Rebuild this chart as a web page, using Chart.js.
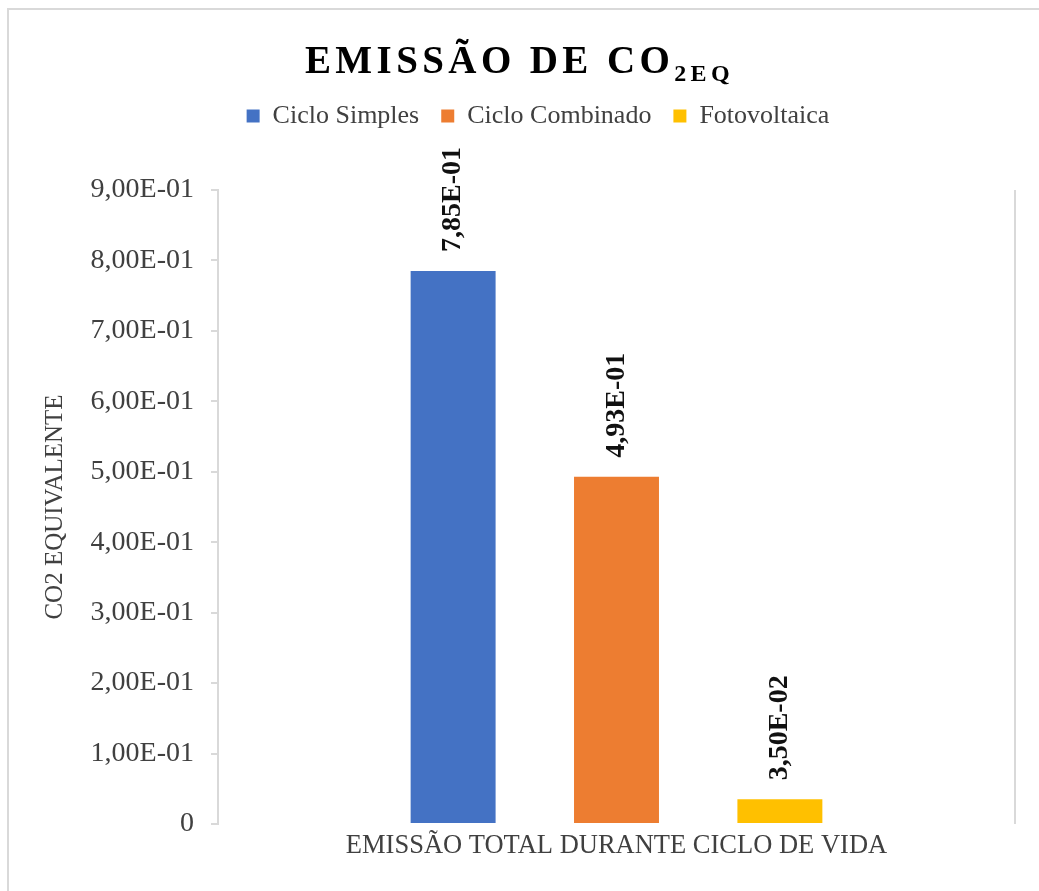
<!DOCTYPE html>
<html lang="pt">
<head>
<meta charset="UTF-8">
<script src="https://cdn.jsdelivr.net/npm/chart.js"></script>
<style>
  body { margin: 0; background: #fff; overflow: hidden; }
  .frame {
    position: absolute; left: 7px; top: 8px; width: 1100px; height: 950px;
    border-left: 2px solid #d9d9d9; border-top: 2px solid #d9d9d9;
  }
  canvas { position: absolute; left: 0; top: 0; }
</style>
</head>
<body>
<div class="frame"></div>
<canvas id="chart" width="1039" height="891"></canvas>
<script>
const categories = ["EMISSÃO TOTAL DURANTE CICLO DE VIDA"];
const seriesNames = ["Ciclo Simples", "Ciclo Combinado", "Fotovoltaica"];
const cicloSimples = [0.785];
const cicloCombinado = [0.493];
const fotovoltaica = [0.035];
const yTickLabels = ["0", "1,00E-01", "2,00E-01", "3,00E-01", "4,00E-01",
  "5,00E-01", "6,00E-01", "7,00E-01", "8,00E-01", "9,00E-01"];
const titleMain = "EMISSÃO DE CO";
const titleSub = "2EQ";
const yTitle = "CO2 EQUIVALENTE";

const serif = '"Liberation Serif", "Times New Roman", serif';
Chart.defaults.font.family = serif;

// excel style "7,85E-01"
function sci(v) {
  if (v === 0) return "0";
  const [m, e] = v.toExponential(2).split("e");
  const n = parseInt(e, 10);
  return m.replace(".", ",") + "E" + (n < 0 ? "-" : "+") + String(Math.abs(n)).padStart(2, "0");
}

const titlePlugin = {
  id: "titleSub",
  afterDraw(chart) {
    const ctx = chart.ctx;
    ctx.save();
    ctx.fillStyle = "#000";
    ctx.textBaseline = "alphabetic";
    ctx.textAlign = "left";
    ctx.letterSpacing = "4.4px";
    ctx.font = "bold 39px " + serif;
    const w1 = ctx.measureText(titleMain).width;
    ctx.font = "bold 24px " + serif;
    const w2 = ctx.measureText(titleSub).width;
    const x0 = chart.width / 2 - (w1 + w2) / 2;
    ctx.font = "bold 39px " + serif;
    ctx.fillText(titleMain, x0, 73);
    ctx.font = "bold 24px " + serif;
    ctx.fillText(titleSub, x0 + w1, 81);
    ctx.restore();
  }
};

const legendSpacing = {
  id: "legendSpacing",
  beforeInit(chart) {
    const fit = chart.legend.fit;
    chart.legend.fit = function () {
      fit.call(this);
      this.height += 51;
    };
  }
};

const valueLabels = {
  id: "valueLabels",
  afterDatasetsDraw(chart) {
    const ctx = chart.ctx;
    ctx.save();
    ctx.font = "bold 28px " + serif;
    ctx.fillStyle = "#111";
    ctx.textAlign = "left";
    ctx.textBaseline = "middle";
    chart.data.datasets.forEach((ds, i) => {
      chart.getDatasetMeta(i).data.forEach((bar, j) => {
        ctx.save();
        ctx.translate(bar.x, bar.y - 19);
        ctx.rotate(-Math.PI / 2);
        ctx.fillText(sci(ds.data[j]), 0, 0);
        ctx.restore();
      });
    });
    ctx.restore();
  }
};

const barOpts = { borderWidth: 0, categoryPercentage: 0.615, barPercentage: 0.52 };

new Chart(document.getElementById("chart"), {
  type: "bar",
  data: {
    labels: categories,
    datasets: [
      { label: seriesNames[0], data: cicloSimples, backgroundColor: "#4472C4", ...barOpts },
      { label: seriesNames[1], data: cicloCombinado, backgroundColor: "#ED7D31", ...barOpts },
      { label: seriesNames[2], data: fotovoltaica, backgroundColor: "#FFC000", ...barOpts }
    ]
  },
  options: {
    responsive: false,
    animation: false,
    layout: { padding: { left: 61, right: 24, top: 81, bottom: 0 } },
    plugins: {
      legend: {
        position: "top",
        labels: {
          font: { size: 26 }, color: "#404040",
          boxWidth: 13, boxHeight: 13, padding: 22
        }
      },
      title: { display: false },
      tooltip: { enabled: false }
    },
    scales: {
      x: {
        grid: { display: true, drawOnChartArea: true, drawTicks: false, color: "#d9d9d9", lineWidth: 2, offset: true },
        border: { display: false },
        ticks: { font: { size: 26.5 }, color: "#404040", padding: 6, maxRotation: 0 },
        afterFit(scale) { scale.height = 67; }
      },
      y: {
        min: 0,
        max: 0.9,
        ticks: {
          stepSize: 0.1, font: { size: 28 }, color: "#404040", padding: 17,
          callback: (v, i) => yTickLabels[i]
        },
        grid: { drawOnChartArea: false, drawTicks: true, tickLength: 7, color: "#d9d9d9", lineWidth: 2 },
        border: { display: true, color: "#d9d9d9", width: 2 },
        title: {
          display: true, text: yTitle, font: { size: 25 }, color: "#404040",
          padding: { top: -21, bottom: 0 }
        },
        afterFit(scale) { scale.width = 157; }
      }
    }
  },
  plugins: [titlePlugin, legendSpacing, valueLabels]
});
</script>
</body>
</html>
